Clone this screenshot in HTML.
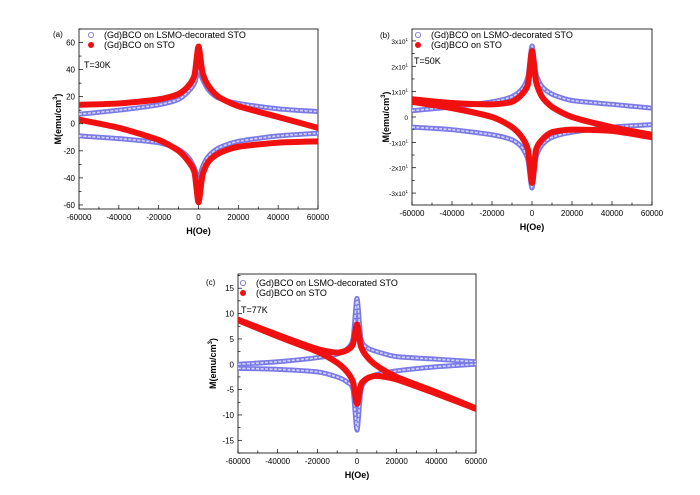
<!DOCTYPE html>
<html><head><meta charset="utf-8"><style>
html,body{margin:0;padding:0;background:#fff;width:700px;height:495px;overflow:hidden}
svg{display:block;font-family:"Liberation Sans",Arial,sans-serif}
</style></head><body>
<svg id="fig" width="700" height="495" viewBox="0 0 700 495"></svg>
<script>
const fieldH=[-60000,-40000,-20000,-10000,-5000,-2000,0,2000,5000,10000,20000,40000,60000];
const aBlueUp=[7,10,14,18,24,30,40,33,25,19,15,11,9];
const aBlueLo=[-9,-11,-14,-19,-25,-33,-42,-32,-24,-18,-13,-9,-7];
const aRedUp=[14,15,18,22,28,36,57,38,28,20,13,5,-3];
const aRedLo=[3,-3,-12,-20,-28,-36,-58,-38,-28,-22,-17,-14,-13];
const bBlueUp=[2.5,4,6,8,11,16,28,17,12,9,6.5,5,3.5];
const bBlueLo=[-4,-5,-7,-9,-12,-17,-28,-16,-11,-8,-6,-4,-3];
const bRedUp=[7,5.5,5,6,9,13,26,14,8,4,0,-4,-7];
const bRedLo=[6,3.5,0,-4,-8,-13,-26,-13,-9,-6,-5,-5.5,-8];
const cBlueUp=[0,0.5,1.3,2,3,5,13,5,3.3,2.5,1.5,1,0.5];
const cBlueLo=[-0.8,-1,-1.5,-2.5,-3.5,-5,-13,-5,-3,-2,-1.3,-0.5,0];
const cRedUp=[8.8,5.8,3,2.3,2.8,4,7.8,3.5,1.5,-0.3,-2.5,-5.5,-8.7];
const cRedLo=[8.7,5.5,2.5,0.3,-1.5,-3.5,-7.8,-4,-2.8,-2.3,-3,-5.8,-8.8];
const xTicks=[-60000,-40000,-20000,0,20000,40000,60000];
const aYTicks=[-60,-40,-20,0,20,40,60];
const bYTicks=[-30,-20,-10,0,10,20,30];
const cYTicks=[-15,-10,-5,0,5,10,15];
const legendLabels=["(Gd)BCO on LSMO-decorated  STO","(Gd)BCO on STO"];

const NS="http://www.w3.org/2000/svg";
const svg=document.getElementById('fig');
function mk(tag,attrs,parent,txt){const e=document.createElementNS(NS,tag);for(const k in attrs)e.setAttribute(k,attrs[k]);if(txt!==undefined)e.textContent=txt;(parent||svg).appendChild(e);return e;}
function smooth(P){
  let d='M'+P[0][0]+','+P[0][1];
  const t=0.12;
  for(let i=0;i<P.length-1;i++){
    const p0=P[Math.max(i-1,0)],p1=P[i],p2=P[i+1],p3=P[Math.min(i+2,P.length-1)];
    const c1=[p1[0]+(p2[0]-p0[0])*t,p1[1]+(p2[1]-p0[1])*t];
    const c2=[p2[0]-(p3[0]-p1[0])*t,p2[1]-(p3[1]-p1[1])*t];
    d+=` C${c1[0]},${c1[1]} ${c2[0]},${c2[1]} ${p2[0]},${p2[1]}`;
  }
  return d;
}
function panel(o){
  const g=mk('g',{});
  
  
  const sx=v=>o.x0+(v+60000)/120000*(o.x1-o.x0);
  const sy=v=>o.y1-(v-o.ymin)/(o.ymax-o.ymin)*(o.y1-o.y0);
  const fr=mk('rect',{x:o.x0,y:o.y0,width:o.x1-o.x0,height:o.y1-o.y0,fill:'none',stroke:'#000','stroke-width':0.8},g);
  
  
  for(let v=-60000;v<=60000;v+=10000){
    const major=v%20000===0;const L=major?4:2.5;
    mk('line',{x1:sx(v),x2:sx(v),y1:o.y1,y2:o.y1-L,stroke:'#000','stroke-width':0.7},g);
  }
  xTicks.forEach(v=>{
    const t=mk('text',{x:sx(v),y:o.y1+11,'font-size':8,'text-anchor':'middle'},g,String(v));
    
    
  });
  const step=o.yt[1]-o.yt[0];
  for(let v=o.yt[0]-step;v<=o.yt[o.yt.length-1]+step;v+=step/2){
    if(v<o.ymin||v>o.ymax)continue;
    const major=o.yt.includes(v);const L=major?4:2.5;
    mk('line',{x1:o.x0,x2:o.x0+L,y1:sy(v),y2:sy(v),stroke:'#000','stroke-width':0.7},g);
  }
  o.yt.forEach(v=>{
    const t=mk('text',{x:o.x0-4,y:sy(v)+3,'font-size':o.sci?6.5:8,'text-anchor':'end'},g);
    
    
    if(o.sci&&v!==0){t.textContent=(v/10)+'x10';mk('tspan',{'font-size':4.5,dy:-3},t,'1');}
    else t.textContent=String(v);
  });
  const xt=mk('text',{x:(o.x0+o.x1)/2,y:o.y1+25,'font-size':9,'font-weight':'bold','text-anchor':'middle'},g,'H(Oe)');
  
  
  const yx=o.ytx, yy=(o.y0+o.y1)/2;
  const yt=mk('text',{x:yx,y:yy,'font-size':9,'font-weight':'bold','text-anchor':'middle',transform:`rotate(-90 ${yx} ${yy})`},g,'M(emu/cm');
  mk('tspan',{'font-size':6,dy:-4},yt,'3');
  mk('tspan',{dy:4},yt,')');
  
  
  const P=arr=>fieldH.map((h,i)=>[sx(h),sy(arr[i])]);
  const clip='clip-'+o.id;
  const cp=mk('clipPath',{id:clip},g);mk('rect',{x:o.x0,y:o.y0,width:o.x1-o.x0,height:o.y1-o.y0},cp);
  const sg=mk('g',{'clip-path':`url(#${clip})`},g);
  [o.blue[0],o.blue[1]].forEach((arr,k)=>{
    const d=smooth(P(arr));
    const p=mk('path',{d:d,fill:'none',stroke:'#7a7ae6','stroke-width':5,'stroke-linejoin':'round'},sg);
    
    
    mk('path',{d:d,fill:'none',stroke:'#d4d4fa','stroke-width':1.6,'stroke-dasharray':'3 1.5'},sg);
  });
  [o.red[0],o.red[1]].forEach((arr,k)=>{
    const p=mk('path',{d:smooth(P(arr)),fill:'none',stroke:'#f01010','stroke-width':6,'stroke-linejoin':'round','stroke-linecap':'round'},sg);
    
    
  });
  const lg=mk('g',{},g);
  
  
  mk('circle',{cx:o.lx,cy:o.ly,r:2.6,fill:'none',stroke:'#6a6ae0','stroke-width':0.8},lg);
  mk('text',{x:o.lx+13,y:o.ly+3,'font-size':9},lg,legendLabels[0]);
  mk('circle',{cx:o.lx,cy:o.ly+10,r:3,fill:'#f01010'},lg);
  mk('text',{x:o.lx+13,y:o.ly+13,'font-size':9},lg,legendLabels[1]);
  const pl=mk('text',{x:o.px,y:o.py,'font-size':8},g,'('+o.id+')');
  
  
  const tl=mk('text',{x:o.tx,y:o.ty,'font-size':9},g,o.temp);
  
  
}
panel({id:'a',x0:79,x1:318,y0:29,y1:209,ymin:-63,ymax:70,yt:aYTicks,blue:[aBlueUp,aBlueLo],red:[aRedUp,aRedLo],lx:91,ly:35,px:53,py:37,tx:84,ty:68,temp:'T=30K',ytx:61});
panel({id:'b',x0:412,x1:652,y0:29,y1:205,ymin:-34.7,ymax:34.7,yt:bYTicks,sci:true,blue:[bBlueUp,bBlueLo],red:[bRedUp,bRedLo],lx:418,ly:35,px:380,py:38,tx:414,ty:64,temp:'T=50K',ytx:389});
panel({id:'c',x0:238,x1:476,y0:274,y1:453,ymin:-17.5,ymax:17.8,yt:cYTicks,blue:[cBlueUp,cBlueLo],red:[cRedUp,cRedLo],lx:243,ly:283,px:206,py:285,tx:241,ty:313,temp:'T=77K',ytx:216});
</script>
</body></html>
